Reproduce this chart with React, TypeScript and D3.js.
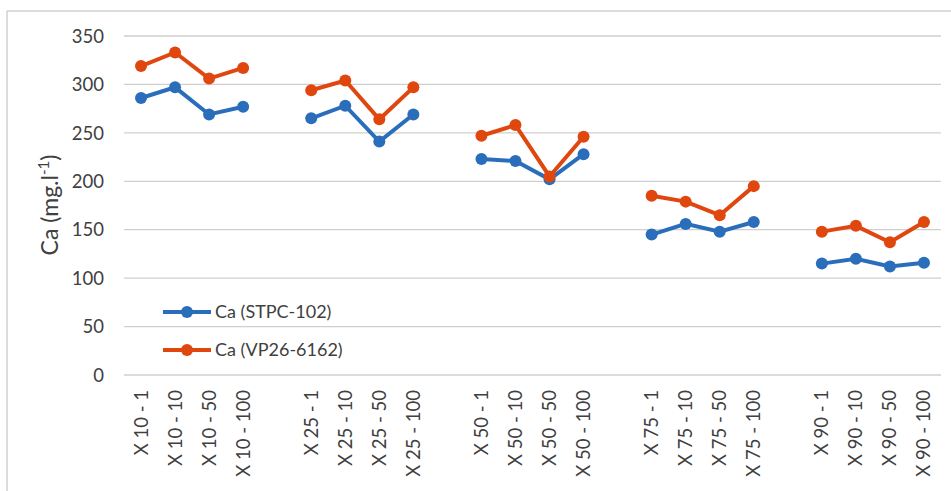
import React from "react";
import * as d3 from "d3";

const groups = ["X 10", "X 25", "X 50", "X 75", "X 90"];
const doses = ["1", "10", "50", "100"];
const categories: string[] = [];
groups.forEach((g, gi) => {
  doses.forEach((d) => categories.push(`${g} - ${d}`));
  if (gi < groups.length - 1) categories.push(`gap${gi}`);
});

const stpc = [
  [286, 297, 269, 277],
  [265, 278, 241, 269],
  [223, 221, 202, 228],
  [145, 156, 148, 158],
  [115, 120, 112, 116],
];
const vp = [
  [319, 333, 306, 317],
  [294, 304, 264, 297],
  [247, 258, 205, 246],
  [185, 179, 165, 195],
  [148, 154, 137, 158],
];
const yTicks = [0, 50, 100, 150, 200, 250, 300, 350];

const seriesList = [
  { name: "Ca (STPC-102)", color: "#2A6EBB", data: stpc },
  { name: "Ca (VP26-6162)", color: "#E0470F", data: vp },
];

const W = 951;
const H = 491;
const left = 124;
const right = 941;
const top = 36;
const bottom = 375;
const font = "Lato, 'Open Sans', sans-serif";

export default function App() {
  const x = d3.scaleBand<string>().domain(categories).range([left, right]).padding(0);
  const y = d3.scaleLinear().domain([0, 350]).range([bottom, top]);
  const cx = (c: string) => (x(c) as number) + x.bandwidth() / 2;
  const line = d3
    .line<{ c: string; v: number }>()
    .x((d) => cx(d.c))
    .y((d) => y(d.v));

  return (
    <svg
      width={W}
      height={H}
      style={{ position: "absolute", left: 0, top: 0, background: "#fff" }}
      fontFamily={font}
    >
      <rect x={0} y={0} width={W} height={H} fill="#fff" />
      <line x1={7} y1={11} x2={W} y2={11} stroke="#d0d0d0" strokeWidth={1.5} />
      <line x1={7} y1={11} x2={7} y2={H} stroke="#d0d0d0" strokeWidth={1.5} />
      {yTicks.map((t) => (
        <g key={t}>
          <line x1={left} x2={right} y1={y(t)} y2={y(t)} stroke="#cfcfcf" strokeWidth={1.3} />
          <text x={104} y={y(t)} dy="0.36em" textAnchor="end" fontSize={18.5} fill="#404040">
            {t}
          </text>
        </g>
      ))}
      <text
        transform={`translate(58,205) rotate(-90)`}
        textAnchor="middle"
        fontSize={23}
        fill="#404040"
      >
        Ca (mg.l
        <tspan dy={-9} fontSize={15}>-1</tspan>
        <tspan dy={9}>)</tspan>
      </text>
      {categories
        .filter((c) => !c.startsWith("gap"))
        .map((c) => (
          <text
            key={c}
            transform={`translate(${cx(c) + 6.5},390) rotate(-90)`}
            textAnchor="end"
            fontSize={18.5}
            fill="#404040"
          >
            {c}
          </text>
        ))}
      {seriesList.map((s) => (
        <g key={s.name}>
          {s.data.map((vals, gi) => {
            const pts = vals.map((v, di) => ({ c: `${groups[gi]} - ${doses[di]}`, v }));
            return (
              <g key={gi}>
                <path d={line(pts) || ""} fill="none" stroke={s.color} strokeWidth={4} />
                {pts.map((p, i) => (
                  <circle key={i} cx={cx(p.c)} cy={y(p.v)} r={6} fill={s.color} />
                ))}
              </g>
            );
          })}
        </g>
      ))}
      {seriesList.map((s, i) => {
        const ly = 312 + i * 38;
        return (
          <g key={s.name}>
            <line x1={163} x2={211} y1={ly} y2={ly} stroke={s.color} strokeWidth={4} />
            <circle cx={187} cy={ly} r={6} fill={s.color} />
            <text x={215} y={ly} dy="0.36em" fontSize={18} fill="#404040">
              {s.name}
            </text>
          </g>
        );
      })}
    </svg>
  );
}
